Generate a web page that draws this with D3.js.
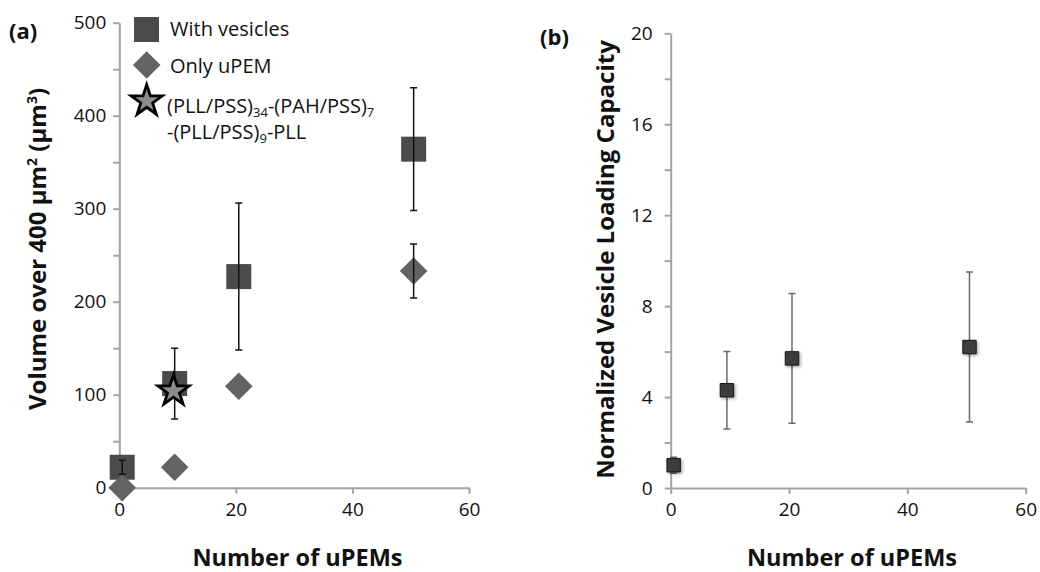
<!DOCTYPE html>
<html>
<head>
<meta charset="utf-8">
<script src="https://cdn.jsdelivr.net/npm/d3@7"></script>
<style>
  html, body { margin: 0; padding: 0; background: #fff; }
  svg { display: block; font-family: "Open Sans", "Noto Sans", sans-serif; }
</style>
</head>
<body>
<svg id="chart" width="1040" height="572"></svg>
<script>
// Number of uPEM layers for each measurement
const uPEMs = [0.5, 9.5, 20.5, 50.5];

// (a) Volume over 400 µm² (µm³)
const vesicleVolume = [22, 112, 227, 364];
const vesicleVolumeErr = [7.5, 38, 79, 66];
const uPEMVolume = [0, 22, 109, 233];
const uPEMVolumeErr = [0, 0, 0, 29];
// Mixed PLL/PAH multilayer reference point
const mixedX = [9.3];
const mixedVolume = [104];

// (b) Normalized vesicle loading capacity
const loadingCapacity = [1.0, 4.3, 5.7, 6.2];
const loadingCapacityErr = [0.35, 1.7, 2.85, 3.3];

// Tick labels
const xTicks = [0, 20, 40, 60];
const volTicks = [0, 100, 200, 300, 400, 500];
const volMinor = [50, 150, 250, 350, 450];
const capTicks = [0, 4, 8, 12, 16, 20];
const capMinor = [2, 6, 10, 14, 18];

const svg = d3.select("#chart");
const axisColor = "#a3a3a3";

function styleAxis(g) {
  g.select(".domain").attr("stroke", axisColor).attr("stroke-width", 2);
  g.selectAll(".tick line").attr("stroke", axisColor).attr("stroke-width", 2);
  g.selectAll(".tick text").attr("fill", "#111").style("font-size", "19px")
    .style("font-family", "'Open Sans', sans-serif");
}

function drawAxes(x, y, yTicks, yMinor, yPad) {
  const [x0] = x.range();
  const [y0] = y.range();
  // minor y ticks
  svg.append("g").attr("transform", `translate(${x0},0)`)
    .call(d3.axisLeft(y).tickValues(yMinor).tickSize(6).tickFormat(""))
    .call(styleAxis).select(".domain").remove();
  svg.append("g").attr("transform", `translate(${x0},0)`)
    .call(d3.axisLeft(y).tickValues(yTicks).tickSize(6).tickSizeOuter(0).tickPadding(yPad))
    .call(styleAxis);
  svg.append("g").attr("transform", `translate(0,${y0})`)
    .call(d3.axisBottom(x).tickValues(xTicks).tickSize(6).tickSizeOuter(0).tickPadding(9))
    .call(styleAxis);
}

function errorBars(g, xs, ys, errs, x, y, color, width) {
  const cap = 3.5;
  const data = xs.map((d, i) => ({ x: d, y: ys[i], e: errs[i] })).filter(d => d.e > 0);
  const b = g.append("g").attr("stroke", color).attr("stroke-width", width).attr("fill", "none");
  b.selectAll("path").data(data).join("path")
    .attr("d", d => {
      const cx = x(d.x), t = y(d.y + d.e), bt = y(d.y - d.e);
      return `M${cx},${t}V${bt}M${cx - cap},${t}H${cx + cap}M${cx - cap},${bt}H${cx + cap}`;
    });
}

// ---------- Panel (a) ----------
const xa = d3.scaleLinear().domain([0, 60]).range([119.3, 469]);
const ya = d3.scaleLinear().domain([0, 500]).range([487.7, 22.7]);
drawAxes(xa, ya, volTicks, volMinor, 7);

const pa = svg.append("g");
const squareSym = d3.symbol().type(d3.symbolSquare);
const starSym = d3.symbol().type(d3.symbolStar).size(300);

pa.selectAll("path.ves").data(uPEMs).join("path").attr("class", "ves")
  .attr("transform", (d, i) => `translate(${xa(d)},${ya(vesicleVolume[i])})`)
  .attr("d", squareSym.size(625)())
  .attr("fill", "#4b4b4b");

pa.selectAll("path.upem").data(uPEMs).join("path").attr("class", "upem")
  .attr("transform", (d, i) => `translate(${xa(d)},${ya(uPEMVolume[i])}) rotate(45)`)
  .attr("d", d3.symbol().type(d3.symbolSquare).size(380)())
  .attr("fill", "#636363");

errorBars(pa, uPEMs, vesicleVolume, vesicleVolumeErr, xa, ya, "#111", 1.5);
errorBars(pa, uPEMs, uPEMVolume, uPEMVolumeErr, xa, ya, "#111", 1.5);

pa.selectAll("path.mixed").data(mixedX).join("path").attr("class", "mixed")
  .attr("transform", (d, i) => `translate(${xa(d)},${ya(mixedVolume[i])})`)
  .attr("d", starSym())
  .attr("fill", "#8c8c8c").attr("stroke", "#000").attr("stroke-width", 2.8)
  .attr("stroke-linejoin", "miter");

// Legend
const lg = svg.append("g").style("font-size", "20px").attr("fill", "#111");
lg.append("path").attr("transform", "translate(146.5,29.5)")
  .attr("d", d3.symbol().type(d3.symbolSquare).size(625)()).attr("fill", "#4b4b4b");
lg.append("text").attr("x", 170).attr("y", 36).text("With vesicles");
lg.append("path").attr("transform", "translate(146.7,65) rotate(45)")
  .attr("d", d3.symbol().type(d3.symbolSquare).size(380)()).attr("fill", "#636363");
lg.append("text").attr("x", 170).attr("y", 73).text("Only uPEM");
lg.append("path").attr("transform", "translate(146.7,101)")
  .attr("d", starSym()).attr("fill", "#8c8c8c").attr("stroke", "#000").attr("stroke-width", 2.8);
const l3 = lg.append("text").attr("x", 167).attr("y", 113);
l3.append("tspan").text("(PLL/PSS)");
l3.append("tspan").attr("dy", 4).style("font-size", "13px").text("34");
l3.append("tspan").attr("dy", -4).text("-(PAH/PSS)");
l3.append("tspan").attr("dy", 4).style("font-size", "13px").text("7");
const l4 = lg.append("text").attr("x", 167).attr("y", 139);
l4.append("tspan").text("-(PLL/PSS)");
l4.append("tspan").attr("dy", 4).style("font-size", "13px").text("9");
l4.append("tspan").attr("dy", -4).text("-PLL");

// Titles (a)
svg.append("text").attr("x", 9).attr("y", 39).style("font-size", "22px")
  .style("font-weight", "bold").attr("fill", "#111").text("(a)");
svg.append("text").attr("x", 297.5).attr("y", 566).attr("text-anchor", "middle")
  .style("font-size", "23.5px").style("font-weight", "bold").attr("fill", "#111")
  .text("Number of uPEMs");
const yta = svg.append("text").attr("transform", "translate(46,249) rotate(-90)")
  .attr("text-anchor", "middle").style("font-size", "24px").style("font-weight", "bold")
  .attr("fill", "#111");
yta.append("tspan").text("Volume over 400 µm");
yta.append("tspan").attr("dy", -9).style("font-size", "14px").text("2");
yta.append("tspan").attr("dy", 9).text(" (µm");
yta.append("tspan").attr("dy", -9).style("font-size", "14px").text("3");
yta.append("tspan").attr("dy", 9).text(")");

// ---------- Panel (b) ----------
const xb = d3.scaleLinear().domain([0, 60]).range([670.7, 1025.7]);
const yb = d3.scaleLinear().domain([0, 20]).range([488, 33.3]);
drawAxes(xb, yb, capTicks, capMinor, 12);

const defs = svg.append("defs");
const f = defs.append("filter").attr("id", "shadow").attr("x", "-50%").attr("y", "-50%")
  .attr("width", "200%").attr("height", "200%");
f.append("feDropShadow").attr("dx", 1.5).attr("dy", 1.5).attr("stdDeviation", 1.5)
  .attr("flood-color", "#000").attr("flood-opacity", 0.35);

const pb = svg.append("g");
errorBars(pb, uPEMs, loadingCapacity, loadingCapacityErr, xb, yb, "#6a6a6a", 1.5);
pb.selectAll("path.cap").data(uPEMs).join("path").attr("class", "cap")
  .attr("transform", (d, i) => `translate(${xb(d)},${yb(loadingCapacity[i])})`)
  .attr("d", d3.symbol().type(d3.symbolSquare).size(180)())
  .attr("fill", "#3d3d3d").attr("stroke", "#151515").attr("stroke-width", 1)
  .attr("filter", "url(#shadow)");

svg.append("text").attr("x", 540).attr("y", 45).style("font-size", "22px")
  .style("font-weight", "bold").attr("fill", "#111").text("(b)");
svg.append("text").attr("x", 852).attr("y", 566).attr("text-anchor", "middle")
  .style("font-size", "23.5px").style("font-weight", "bold").attr("fill", "#111")
  .text("Number of uPEMs");
svg.append("text").attr("transform", "translate(614,259.5) rotate(-90)")
  .attr("text-anchor", "middle").style("font-size", "24px").style("font-weight", "bold")
  .attr("fill", "#111").text("Normalized Vesicle Loading Capacity");
</script>
</body>
</html>
